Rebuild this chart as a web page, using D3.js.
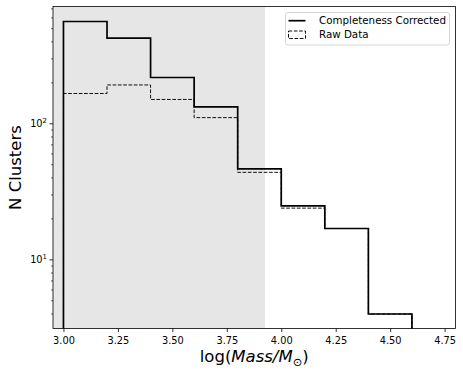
<!DOCTYPE html>
<html><head><meta charset="utf-8">
<script src="https://cdn.jsdelivr.net/npm/d3@7"></script>
<style>body{margin:0;background:#fff}svg{display:block}text{font-family:"DejaVu Sans",sans-serif}</style>
</head><body><svg id="c" width="463" height="375"></svg>
<script>
const binEdges = [3.0, 3.2, 3.4, 3.6, 3.8, 4.0, 4.2, 4.4, 4.6];
const corrected = [565, 427, 219, 133, 46.7, 24.9, 17, 4];
const raw = [167, 193, 151, 111, 44, 24, 17, 4];
const xTicks = [3.0, 3.25, 3.5, 3.75, 4.0, 4.25, 4.5, 4.75];
const yMajor = [10, 100];
const yMinor = [4,5,6,7,8,9,20,30,40,50,60,70,80,90,200,300,400,500,600,700];
const shadeEnd = 3.925;
const seriesNames = ["Completeness Corrected", "Raw Data"];

const L = 53, R = 455.5, T = 6.5, B = 328.5;
const svg = d3.select("#c");
const x = d3.scaleLinear().domain([2.952, 4.8]).range([L, R]);
const y = d3.scaleLog().domain([3.13, 728]).range([B, T]);

svg.append("defs").append("clipPath").attr("id","clip")
  .append("rect").attr("x",L).attr("y",T).attr("width",R-L).attr("height",B-T);

// shaded region
svg.append("rect").attr("x", L).attr("y", T)
  .attr("width", x(shadeEnd) - L).attr("height", B - T).attr("fill", "#e6e6e6");

function stepPath(vals){
  const pts = [[x(binEdges[0]), B + 20]];
  vals.forEach((v,i)=>{ pts.push([x(binEdges[i]), y(v)]); pts.push([x(binEdges[i+1]), y(v)]); });
  pts.push([x(binEdges[binEdges.length-1]), B + 20]);
  return d3.line()(pts);
}
const g = svg.append("g").attr("clip-path","url(#clip)");
g.append("path").attr("d", stepPath(raw)).attr("fill","none").attr("stroke","#111")
  .attr("stroke-width",1).attr("stroke-dasharray","3.7,1.6");
g.append("path").attr("d", stepPath(corrected)).attr("fill","none").attr("stroke","#000")
  .attr("stroke-width",1.7);

// x axis
const xa = svg.append("g").attr("transform",`translate(0,${B})`)
  .call(d3.axisBottom(x).tickValues(xTicks).tickFormat(d3.format(".2f")).tickSize(3.5).tickPadding(5));
xa.select(".domain").remove();
xa.selectAll("text").attr("font-size",9.8).attr("fill","#000").attr("font-family","DejaVu Sans");
xa.selectAll("line").attr("stroke","#000").attr("stroke-width",0.8);

// y axis
const ya = svg.append("g");
ya.selectAll("line.mn").data(yMinor).join("line")
  .attr("x1",L-2).attr("x2",L).attr("y1",d=>y(d)).attr("y2",d=>y(d)).attr("stroke","#000").attr("stroke-width",0.6);
ya.selectAll("line.mj").data(yMajor).join("line")
  .attr("x1",L-3.5).attr("x2",L).attr("y1",d=>y(d)).attr("y2",d=>y(d)).attr("stroke","#000").attr("stroke-width",0.8);
const yl = ya.selectAll("text").data(yMajor).join("text")
  .attr("x", L-6).attr("y", d=>y(d)+3.5).attr("text-anchor","end").attr("font-size",9.8);
yl.append("tspan").text("10");
yl.append("tspan").attr("font-size",6.9).attr("dy",-4).text(d=>String(Math.round(Math.log10(d))));

// frame
svg.append("rect").attr("x",L).attr("y",T).attr("width",R-L).attr("height",B-T)
  .attr("fill","none").attr("stroke","#000").attr("stroke-width",0.8);

// labels
const xl = svg.append("text").attr("x",(L+R)/2).attr("y",362).attr("text-anchor","middle").attr("font-size",16.5);
xl.append("tspan").text("log(");
xl.append("tspan").attr("font-style","italic").text("Mass/M");
xl.append("tspan").attr("font-size",11.5).attr("dy",3.5).text("\u2299");
xl.append("tspan").attr("dy",-3.5).text(")");
svg.append("text").attr("transform",`translate(20.5,${(T+B)/2}) rotate(-90)`)
  .attr("text-anchor","middle").attr("font-size",16.5).text("N Clusters");

// legend
const lg = svg.append("g");
lg.append("rect").attr("x",285.5).attr("y",12.5).attr("width",164).attr("height",32.5).attr("rx",2.5)
  .attr("fill","#fff").attr("fill-opacity",0.8).attr("stroke","#ccc").attr("stroke-width",0.8);
lg.append("line").attr("x1",288.5).attr("x2",305.5).attr("y1",20.7).attr("y2",20.7).attr("stroke","#000").attr("stroke-width",1.7);
lg.append("rect").attr("x",288.5).attr("y",31).attr("width",17).attr("height",7.5).attr("fill","none")
  .attr("stroke","#111").attr("stroke-width",1).attr("stroke-dasharray","3.7,1.6");
lg.selectAll("text.l").data(seriesNames).join("text").attr("x",319).attr("y",(d,i)=>24.4+i*14)
  .attr("font-size",10.3).text(d=>d);
</script></body></html>
